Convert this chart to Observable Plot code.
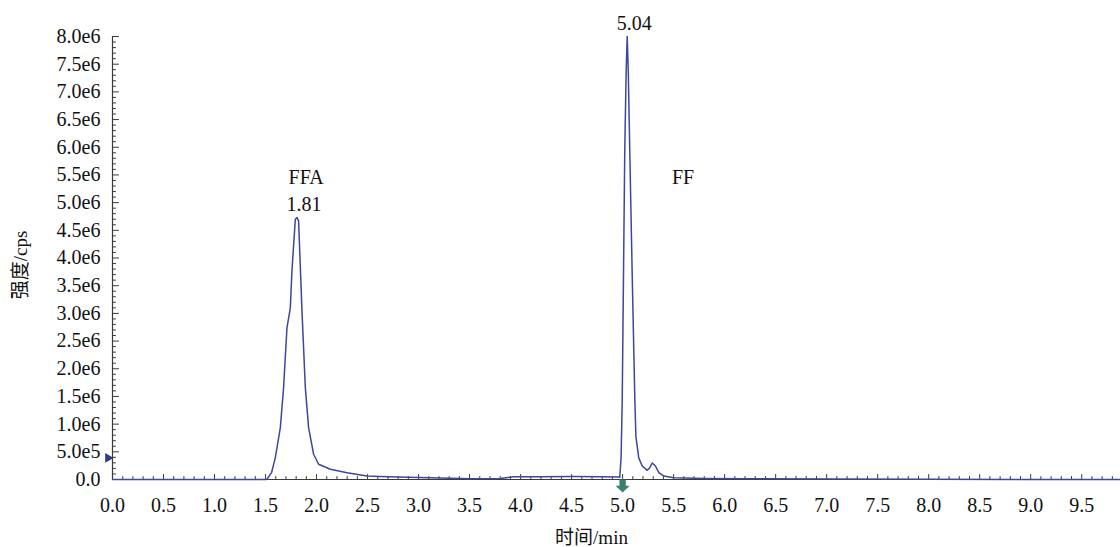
<!DOCTYPE html>
<html>
<head>
<meta charset="utf-8">
<script src="https://cdn.jsdelivr.net/npm/d3@7"></script>
<script src="https://cdn.jsdelivr.net/npm/@observablehq/plot@0.6"></script>
<style>
  html, body { margin: 0; padding: 0; background: #fff; }
  #chart svg { display: block; }
</style>
</head>
<body>
<div id="chart"></div>
<script>
// ---- data ----
const time = [0, 1.50, 1.514, 1.56, 1.596, 1.645, 1.677, 1.710, 1.743, 1.759, 1.792, 1.808, 1.824, 1.857, 1.890, 1.922, 1.971, 2.020, 2.135, 2.299, 2.495, 2.62, 2.80, 3.11, 3.51, 3.80, 3.93, 4.20, 4.50, 4.80, 4.96, 4.972, 4.985, 4.996, 5.021, 5.035, 5.045, 5.055, 5.070, 5.095, 5.120, 5.130, 5.158, 5.192, 5.241, 5.266, 5.290, 5.322, 5.355, 5.404, 5.502, 5.80, 6.20, 7.00, 8.00, 9.88];
const intensity = [0, 0, 5e3, 1.3e5, 3.94e5, 9.36e5, 1.66e6, 2.74e6, 3.10e6, 3.77e6, 4.70e6, 4.73e6, 4.67e6, 3.05e6, 1.66e6, 9.36e5, 4.56e5, 2.75e5, 1.84e5, 1.23e5, 6.3e4, 5.5e4, 4.5e4, 3.0e4, 1.5e4, 2.0e4, 5.0e4, 5.0e4, 5.5e4, 5.0e4, 4.5e4, 4.0e4, 4.0e5, 1.42e6, 5.94e6, 7.4e6, 8.0e6, 7.4e6, 5.94e6, 3.6e6, 1.42e6, 7.8e5, 3.9e5, 2.44e5, 1.66e5, 2.13e5, 2.98e5, 2.44e5, 1.23e5, 6.3e4, 3.3e4, 2.0e4, 1.5e4, 8e3, 3e3, 0];

const peakTimes = [1.808, 5.045];
const peakHeights = [4.73e6, 8.0e6];
const peakLabels = ["1.81", "5.04"];

const compoundNames = ["FFA", "FF"];
const compoundTimes = [1.898, 5.592];
const compoundLevels = [5.46e6, 5.46e6];

const xTickLabels = ["0.0","0.5","1.0","1.5","2.0","2.5","3.0","3.5","4.0","4.5","5.0","5.5","6.0","6.5","7.0","7.5","8.0","8.5","9.0","9.5"];
const yTickLabels = ["0.0","5.0e5","1.0e6","1.5e6","2.0e6","2.5e6","3.0e6","3.5e6","4.0e6","4.5e6","5.0e6","5.5e6","6.0e6","6.5e6","7.0e6","7.5e6","8.0e6"];

const markerLeftLevel = [3.9e5];  // start marker on intensity axis
const markerBottomTime = [5.0];   // marker under time axis

const xLabel = "时间/min";
const yLabel = "强度/cps";

// ---- derived tables ----
const trace = time.map((t, i) => ({t, v: intensity[i]}));
const peaks = peakTimes.map((t, i) => ({t, v: peakHeights[i], label: peakLabels[i]}));
const names = compoundNames.map((n, i) => ({t: compoundTimes[i], v: compoundLevels[i], name: n}));
const xMajor = xTickLabels.map(Number);
const yMajor = yTickLabels.map(Number);
const xLabelMap = new Map(xMajor.map((v, i) => [v, xTickLabels[i]]));
const yLabelMap = new Map(yMajor.map((v, i) => [v, yTickLabels[i]]));
const xMinor = d3.range(0, 99).map(i => i / 10).filter(v => Math.abs(v * 2 - Math.round(v * 2)) > 1e-9);
const yMinor = d3.range(0, 81).map(i => i * 1e5).filter(v => v % 5e5 !== 0);

const tickShape = {draw(ctx, l) { ctx.moveTo(0, 0); ctx.lineTo(0, -l); }};
const arrowDown = {draw(ctx, size) {
  const s = Math.sqrt(size) / 2;
  ctx.moveTo(-s * 0.45, -s); ctx.lineTo(s * 0.45, -s); ctx.lineTo(s * 0.45, -s * 0.1);
  ctx.lineTo(s, -s * 0.1); ctx.lineTo(0, s * 0.85); ctx.lineTo(-s, -s * 0.1); ctx.lineTo(-s * 0.45, -s * 0.1); ctx.closePath();
}};

const axisColor = "#3a3a3a";
const lineColor = "#3d479c";

const chart = Plot.plot({
  width: 1120,
  height: 547,
  marginLeft: 112,
  marginRight: 0,
  marginTop: 36,
  marginBottom: 68,
  style: {fontFamily: "'Liberation Serif', 'Noto Sans CJK SC', serif", fontSize: "20px", color: "#111", background: "#fff"},
  x: {domain: [0, 9.88]},
  y: {domain: [0, 8e6]},
  marks: [
    // axis lines
    Plot.ruleY([0], {stroke: axisColor, strokeWidth: 1.2}),
    Plot.ruleX([0], {stroke: axisColor, strokeWidth: 1.2}),
    // y ticks (inward)
    Plot.vector(yMinor, {x: () => 0, y: d => d, length: 3, rotate: 90, anchor: "start", shape: tickShape, stroke: axisColor, strokeWidth: 1}),
    Plot.vector(yMajor, {x: () => 0, y: d => d, length: 6, rotate: 90, anchor: "start", shape: tickShape, stroke: axisColor, strokeWidth: 1}),
    // x ticks (inward)
    Plot.vector(xMinor, {x: d => d, y: () => 0, length: 3, rotate: 0, anchor: "start", shape: tickShape, stroke: axisColor, strokeWidth: 1}),
    Plot.vector(xMajor, {x: d => d, y: () => 0, length: 5, rotate: 0, anchor: "start", shape: tickShape, stroke: axisColor, strokeWidth: 1}),
    // tick labels
    Plot.axisY({ticks: yMajor, tickFormat: d => yLabelMap.get(d), tickSize: 0, tickPadding: 12, label: null, fill: "#111"}),
    Plot.axisX({ticks: xMajor, tickFormat: d => xLabelMap.get(d), tickSize: 0, tickPadding: 18, label: null, fill: "#111"}),
    // trace
    Plot.line(trace, {x: "t", y: "v", stroke: lineColor, strokeWidth: 1.5, curve: "linear"}),
    // markers
    Plot.dot(markerLeftLevel, {x: () => 0, y: d => d, symbol: "triangle", rotate: 90, r: 3.6, dx: -4.5, fill: "#2f3b86", stroke: "none"}),
    Plot.dot(markerBottomTime, {x: d => d, y: () => 0, symbol: arrowDown, r: 8, dy: 7, fill: "#3e7d72", stroke: "none"}),
    // annotations
    Plot.text(peaks, {x: "t", y: "v", text: "label", dx: 7, dy: -7, lineAnchor: "bottom", fontSize: 20, fill: "#111"}),
    Plot.text(names, {x: "t", y: "v", text: "name", lineAnchor: "middle", fontSize: 20, fill: "#111"}),
    // axis titles
    Plot.text([yLabel], {frameAnchor: "left", text: d => d, rotate: -90, textAnchor: "middle", lineAnchor: "middle", dx: -92, dy: 7, fontSize: 19, fill: "#111"}),
    Plot.text([xLabel], {frameAnchor: "bottom", text: d => d, textAnchor: "middle", lineAnchor: "middle", dx: -25, dy: 58, fontSize: 19, fill: "#111"})
  ]
});
document.getElementById("chart").appendChild(chart);
</script>
</body>
</html>
